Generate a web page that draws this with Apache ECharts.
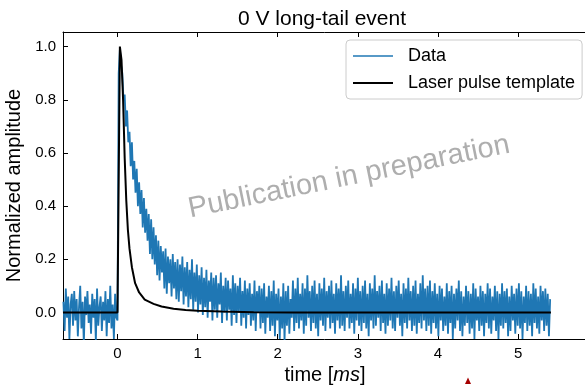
<!DOCTYPE html>
<html>
<head>
<meta charset="utf-8">
<script src="https://cdn.jsdelivr.net/npm/echarts@6/dist/echarts.min.js"></script>
<style>html,body{margin:0;padding:0;background:#fff}#c{width:585px;height:385px}</style>
</head>
<body>
<div id="c"></div>
<script>
// ---- data ----
const titleText = '0 V long-tail event';
const seriesNames = ['Data', 'Laser pulse template'];
const xTicks = [0, 1, 2, 3, 4, 5];
const yTicks = [0, 0.2, 0.4, 0.6, 0.8, 1.0];
// measured trace: first sample time and sample spacing (ms)
const dataT0 = -0.675;
const dataDt = 0.015;
const dataAmp = [
 0.04,-0.07,0.09,-0.02,0.06,-0.1,0.03,0.07,-0.05,0.08,
 -0.03,0.05,-0.09,0.02,0.1,-0.06,0.04,-0.12,0.06,-0.01,
 0.08,-0.04,0.03,-0.08,0.07,-0.02,0.05,-0.11,0.09,-0.05,
 0.02,0.06,-0.07,0.04,-0.03,0.08,-0.09,0.05,-0.04,0.1,
 -0.06,0.03,-0.1,0.07,-0.02,
 -0.03,0.9,0.99,0.93,0.9,0.8,0.82,0.7,0.76,0.64,
 0.68,0.55,0.64,0.5,0.57,0.45,0.54,0.4,0.49,0.37,
 0.46,0.32,0.43,0.3,0.39,0.27,0.37,0.22,0.35,0.2,
 0.32,0.18,0.29,0.14,0.27,0.12,0.25,0.15,0.23,0.09,
 0.24,0.07,0.21,0.11,0.2,0.06,0.22,0.09,0.19,0.05,
 0.2,0.04,0.18,0.08,0.21,0.03,0.17,0.06,0.19,0.02,
 0.16,0.05,0.2,0.01,0.15,0.04,0.18,0.0,0.14,0.03,
 0.17,-0.01,0.13,0.02,0.16,-0.02,0.12,0.04,0.15,-0.03,
 0.13,0.01,0.14,-0.02,0.11,0.03,0.15,-0.04,0.1,0.0,
 0.13,-0.03,0.12,0.01,0.09,-0.05,0.14,-0.01,0.11,-0.04,
 0.1,0.0,0.13,-0.05,0.08,-0.02,0.12,-0.06,0.09,-0.01,
 0.11,-0.05,0.07,-0.03,0.12,-0.07,0.08,0.0,0.1,-0.06,
 0.09,-0.04,0.11,-0.08,0.06,-0.02,0.1,-0.07,0.08,-0.05,
 0.12,-0.09,0.07,-0.03,0.09,-0.1,0.06,-0.06,0.11,-0.11,
 0.08,-0.05,0.1,-0.08,0.05,-0.02,0.12,-0.07,0.09,-0.04,
 0.13,-0.06,0.07,-0.03,0.11,-0.08,0.09,-0.05,0.14,-0.02,
 0.08,-0.07,0.1,-0.04,0.12,-0.06,0.07,-0.09,0.11,-0.03,
 0.09,-0.05,0.13,-0.07,0.08,-0.02,0.1,-0.06,0.12,-0.04,
 0.07,-0.08,0.11,-0.03,0.09,-0.06,0.14,-0.05,0.08,-0.07,
 0.1,-0.02,0.12,-0.06,0.07,-0.04,0.11,-0.08,0.09,-0.03,
 0.13,-0.05,0.08,-0.07,0.1,-0.04,0.12,-0.06,0.07,-0.09,
 0.11,-0.03,0.09,-0.06,0.14,-0.05,0.08,-0.02,0.1,-0.07,
 0.12,-0.04,0.07,-0.08,0.11,-0.05,0.09,-0.03,0.13,-0.06,
 0.08,-0.07,0.1,-0.02,0.12,-0.05,0.07,-0.09,0.11,-0.04,
 0.09,-0.06,0.13,-0.03,0.08,-0.07,0.1,-0.05,0.12,-0.08,
 0.07,-0.04,0.11,-0.06,0.14,-0.03,0.09,-0.07,0.1,-0.05,
 0.12,-0.08,0.08,-0.04,0.11,-0.06,0.07,-0.09,0.1,-0.03,
 0.09,-0.07,0.06,-0.05,0.11,-0.08,0.08,-0.04,0.1,-0.1,
 0.07,-0.06,0.09,-0.03,0.12,-0.07,0.08,-0.09,0.06,-0.05,
 0.1,-0.04,0.08,-0.08,0.07,-0.06,0.11,-0.1,0.09,-0.03,
 0.06,-0.07,0.1,-0.05,0.08,-0.09,0.07,-0.04,0.11,-0.06,
 0.09,-0.08,0.06,-0.03,0.1,-0.07,0.08,-0.1,0.07,-0.05,
 0.11,-0.06,0.08,-0.04,0.09,-0.09,0.06,-0.07,0.1,-0.03,
 0.07,-0.08,0.09,-0.05,0.11,-0.06,0.08,-0.1,0.06,-0.04,
 0.1,-0.07,0.08,-0.05,0.07,-0.09,0.11,-0.04,0.09,-0.06,
 0.06,-0.08,0.1,-0.03,0.08,-0.07,0.09,-0.05,0.07,-0.09,0.05
];
// laser pulse template (time ms, amplitude)
const templateT = [-0.68, 0.0, 0.03, 0.05, 0.07, 0.09, 0.11, 0.13, 0.15, 0.18, 0.22, 0.27, 0.34, 0.45, 0.55, 0.7, 0.85, 1.0, 1.3, 1.7, 2.2, 5.41];
const templateY = [0, 0, 1.0, 0.95, 0.8, 0.58, 0.42, 0.31, 0.24, 0.17, 0.11, 0.075, 0.048, 0.032, 0.022, 0.014, 0.009, 0.006, 0.003, 0.001, 0, 0];

// ---- build chart ----
const FONT = 'Liberation Sans, Arial, Helvetica, sans-serif';
const dataPairs = dataAmp.map((v, i) => [dataT0 + i * dataDt, v]);
const templatePairs = templateT.map((t, i) => [t, templateY[i]]);

const chart = echarts.init(document.getElementById('c'), null, {renderer: 'canvas'});
const axisLineStyle = {color: '#000', width: 1};
chart.setOption({
  animation: false,
  backgroundColor: '#fff',
  title: {
    text: titleText, left: 317, top: 4, textAlign: 'center',
    textStyle: {fontFamily: FONT, fontSize: 21, fontWeight: 'normal', color: '#000'}
  },
  grid: {left: 63, top: 32, right: -2, bottom: 46, containLabel: false, outerBoundsMode: 'none'},
  legend: {
    orient: 'vertical', left: 346, top: 40,
    padding: [6, 7, 6, 6], itemGap: 7, itemWidth: 40, itemHeight: 14,
    backgroundColor: 'rgba(255,255,255,0.8)', borderColor: '#cccccc', borderWidth: 1, borderRadius: 4,
    itemStyle: {opacity: 0},
    textStyle: {fontFamily: FONT, fontSize: 18, color: '#000', lineHeight: 20, padding: [0, 0, 0, 10]},
    data: [{name: seriesNames[0], lineStyle: {width: 1.5}}, {name: seriesNames[1], lineStyle: {width: 2}}]
  },
  xAxis: [{
    type: 'value', min: -0.68, max: 5.86, position: 'bottom',
    axisLine: {show: true, onZero: false, lineStyle: axisLineStyle},
    axisTick: {show: true, inside: true, length: 5, customValues: xTicks, lineStyle: axisLineStyle},
    axisLabel: {customValues: xTicks, color: '#000', fontSize: 15, fontFamily: FONT, margin: 7},
    splitLine: {show: false},
    name: '{n|time [}{i|ms}{n|]}', nameLocation: 'middle', nameGap: 25,
    nameTextStyle: {color: '#000', fontSize: 20, fontFamily: FONT,
      rich: {n: {fontSize: 20, fontFamily: FONT, color: '#000'}, i: {fontSize: 20, fontFamily: FONT, fontStyle: 'italic', color: '#000'}}}
  }, {
    type: 'value', min: -0.68, max: 5.86, position: 'top',
    axisLine: {show: true, onZero: false, lineStyle: axisLineStyle},
    axisTick: {show: true, inside: true, length: 5, customValues: xTicks, lineStyle: axisLineStyle},
    axisLabel: {show: false}, splitLine: {show: false}
  }],
  yAxis: [{
    type: 'value', min: -0.1, max: 1.055, position: 'left',
    axisLine: {show: true, onZero: false, lineStyle: axisLineStyle},
    axisTick: {show: true, inside: true, length: 5, customValues: yTicks, lineStyle: axisLineStyle},
    axisLabel: {customValues: yTicks, color: '#000', fontSize: 15, fontFamily: FONT, margin: 7,
      formatter: v => v.toFixed(1)},
    splitLine: {show: false},
    name: 'Normalized amplitude', nameLocation: 'middle', nameGap: 29, nameRotate: 90,
    nameTextStyle: {color: '#000', fontSize: 20, fontFamily: FONT}
  }],
  series: [{
    name: seriesNames[0], type: 'line', data: dataPairs, symbol: 'none', showSymbol: false,
    color: '#1f77b4', lineStyle: {color: '#1f77b4', width: 1.8}, z: 2
  }, {
    name: seriesNames[1], type: 'line', data: templatePairs, symbol: 'none', showSymbol: false,
    color: '#000', lineStyle: {color: '#000', width: 2}, z: 3
  }],
  graphic: [{
    type: 'text', x: 349, y: 177, rotation: 11.5 * Math.PI / 180, z: 100,
    style: {text: 'Publication in preparation', fontFamily: FONT, fontSize: 29,
      fill: 'rgba(120,120,120,0.6)', align: 'center', verticalAlign: 'middle'}
  }, {
    type: 'polygon', z: 100,
    shape: {points: [[465, 384], [471, 384], [468, 377.5]]},
    style: {fill: '#a50000'}
  }]
});
</script>
</body>
</html>
